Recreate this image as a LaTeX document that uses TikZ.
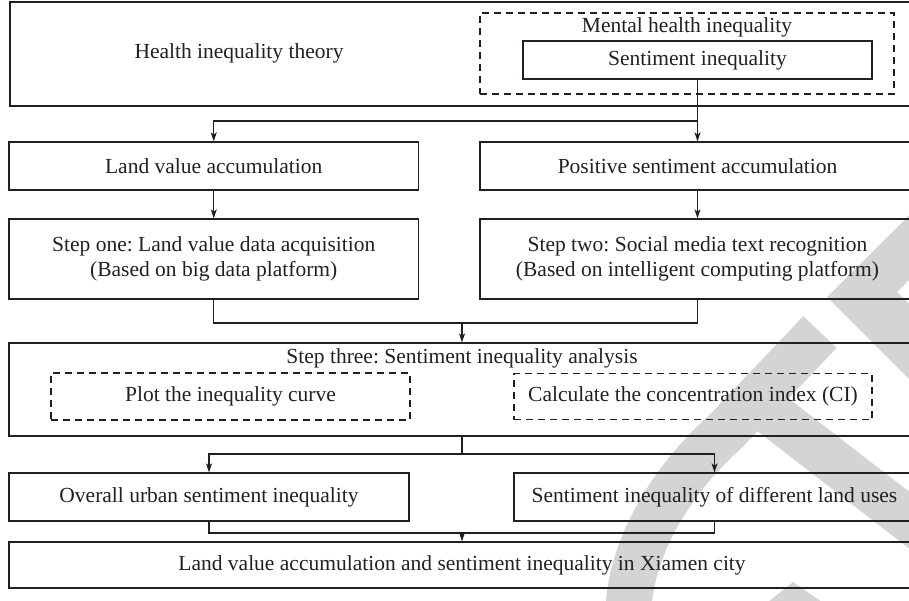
\documentclass[tikz,border=0pt]{standalone}
\usepackage{fontspec}
\setmainfont{Liberation Serif}
\usetikzlibrary{arrows.meta,calc}
\definecolor{ink}{RGB}{35,31,32}
\definecolor{wm}{RGB}{212,212,212}
\frenchspacing
\begin{document}
\begin{tikzpicture}[x=1pt,y=-1pt,
  every node/.style={font={\fontsize{21.5}{25}\selectfont}, text=ink},
  box/.style={draw=ink, line width=1.2pt, inner sep=0pt, align=center},
  dbox/.style={box, dash pattern=on 7pt off 5pt},
  lbl/.style={inner sep=0pt, align=center},
  ln/.style={draw=ink, line width=1.1pt},
  arr/.style={ln, -{Stealth[length=9pt,width=6pt,inset=2.2pt]}}]
\useasboundingbox (0,0) rectangle (909,601);
\clip (0,0) rectangle (909,601);
% watermark
\fill[wm] (960,165) -- (827,297) -- (960,430) -- (960,355) -- (897,292) -- (960,229) -- cycle;
\draw[wm, line width=46pt] (628,615) .. controls (630,540) and (680,472) .. (725,432) -- (820,332);
\draw[wm, line width=45pt] (750,397) -- (975,571);
\fill[wm] (793,582) -- (822,602) -- (768,602) -- cycle;
% boxes
\node[box, minimum width=905pt, minimum height=104pt] (theory) at (462.5,54) {};
\node[lbl] (theorylbl) at (239,53) {Health inequality theory};
\node[dbox, minimum width=414pt, minimum height=81pt] (mental) at (687,53.5) {};
\node[lbl] (mentallbl) at (687,27) {Mental health inequality};
\node[box, minimum width=349pt, minimum height=38pt] (sent) at (697.5,60) {Sentiment inequality};
\node[box, minimum width=409.5pt, minimum height=48pt] (land) at (213.75,166) {Land value accumulation};
\node[box, minimum width=435pt, minimum height=48pt] (pos) at (697.5,166) {Positive sentiment accumulation};
\node[box, minimum width=409.5pt, minimum height=80pt] (s1) at (213.75,259) {Step one: Land value data acquisition\\(Based on big data platform)};
\node[box, minimum width=435pt, minimum height=80pt] (s2) at (697.5,259) {Step two: Social media text recognition\\(Based on intelligent computing platform)};
\node[box, minimum width=906pt, minimum height=93pt] (s3) at (462,389.5) {};
\node[lbl] (s3lbl) at (462,358) {Step three: Sentiment inequality analysis};
\node[dbox, minimum width=359pt, minimum height=47pt] (curve) at (230.5,396.5) {Plot the inequality curve};
\node[dbox, minimum width=358pt, minimum height=46pt] (ci) at (693,396.5) {Calculate the concentration index (CI)};
\node[box, minimum width=400pt, minimum height=48pt] (overall) at (209,497) {Overall urban sentiment inequality};
\node[box, minimum width=401pt, minimum height=48pt] (uses) at (714.5,497) {Sentiment inequality of different land uses};
\node[box, minimum width=906pt, minimum height=46pt] (final) at (462,565) {Land value accumulation and sentiment inequality in Xiamen city};
% connectors
\coordinate (j1) at (697.5,121);
\draw[ln] (sent.south) -- (j1);
\draw[arr] (j1) -| (land.north);
\draw[arr] (j1) -- (pos.north);
\draw[arr] (land.south) -- (s1.north);
\draw[arr] (pos.south) -- (s2.north);
\coordinate (j2) at (462,323);
\draw[ln] (s1.south) |- (j2);
\draw[ln] (s2.south) |- (j2);
\draw[arr] (j2) -- (s3.north);
\coordinate (j3) at (462,454);
\draw[ln] (s3.south) -- (j3);
\draw[arr] (j3) -| (overall.north);
\draw[arr] (j3) -| (uses.north);
\coordinate (j4) at (462,533);
\draw[ln] (overall.south) |- (j4);
\draw[ln] (uses.south) |- (j4);
\draw[arr] (j4) -- (final.north);
\end{tikzpicture}
\end{document}
